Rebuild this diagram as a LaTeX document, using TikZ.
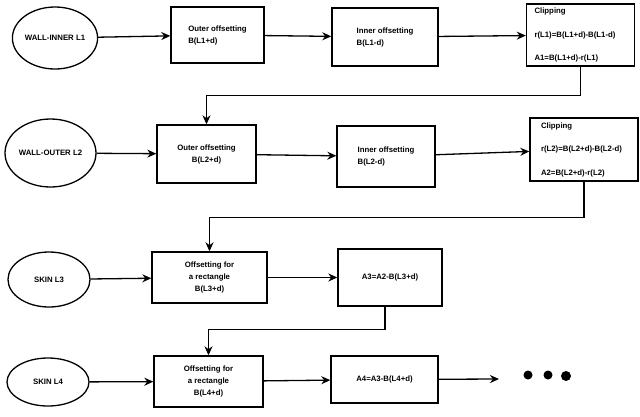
\documentclass[tikz,border=0pt]{standalone}
\usepackage{fontspec}
\setmainfont{Liberation Sans}
\usetikzlibrary{arrows.meta,shapes.geometric}

\begin{document}
\begin{tikzpicture}[x=1pt,y=-1pt,
        every node/.style={font=\fontsize{7.8}{12}\selectfont\bfseries},
        blob/.style={draw,ellipse,line width=1.3pt,inner sep=0pt},
        box/.style={draw,rectangle,line width=1.4pt,inner sep=0pt},
        clipbox/.style={box,align=left,text width=92pt,inner xsep=8pt,font=\fontsize{7.8}{23.5}\selectfont\bfseries},
        flow/.style={line width=1.3pt,-{Stealth[length=9pt,width=8pt]}}]
    \useasboundingbox (0,0) rectangle (640,416);

    % first row: inner wall
    \node[blob,minimum width=80pt,minimum height=62pt] (inner1) at (55,38) {WALL-INNER L1};
    \node[box,align=left,minimum width=93pt,minimum height=56pt] (outoff1) at (217.5,35) {Outer offsetting\\B(L1+d)};
    \node[box,align=left,minimum width=106pt,minimum height=58pt] (inoff1) at (385,37) {Inner offsetting\\B(L1-d)};
    \node[clipbox,minimum height=62pt] (clip1) at (580.5,35) {Clipping\\r(L1)=B(L1+d)-B(L1-d)\\A1=B(L1+d)-r(L1)};

    % second row: outer wall
    \node[blob,minimum width=91pt,minimum height=68pt] (outer2) at (50.5,153) {WALL-OUTER L2};
    \node[box,align=center,minimum width=99pt,minimum height=58pt] (outoff2) at (206.5,154) {Outer offsetting\\B(L2+d)};
    \node[box,align=left,minimum width=98pt,minimum height=61pt] (inoff2) at (386,156.5) {Inner offsetting\\B(L2-d)};
    \node[clipbox,minimum height=63pt,inner xsep=11pt,text width=86pt] (clip2) at (584,149.5) {Clipping\\r(L2)=B(L2+d)-B(L2-d)\\A2=B(L2+d)-r(L2)};

    % third row: skin
    \node[blob,minimum width=82pt,minimum height=55pt] (skin3) at (49,279.5) {SKIN L3};
    \node[box,align=center,minimum width=115pt,minimum height=51pt] (rect3) at (209.5,277.5) {Offsetting for\\a rectangle\\B(L3+d)};
    \node[box,minimum width=104pt,minimum height=57pt] (area3) at (390,277.5) {A3=A2-B(L3+d)};

    % fourth row: skin
    \node[blob,minimum width=82pt,minimum height=48pt] (skin4) at (48,382) {SKIN L4};
    \node[box,align=center,minimum width=109pt,minimum height=51pt] (rect4) at (208.5,381.5) {Offsetting for\\a rectangle\\B(L4+d)};
    \node[box,minimum width=107pt,minimum height=47pt] (area4) at (384.5,379.5) {A4=A3-B(L4+d)};
    \coordinate (more) at (499,379);

    \draw[flow] (inner1) -- (outoff1);
    \draw[flow] (outoff1) -- (inoff1);
    \draw[flow] (inoff1) -- (clip1);
    \draw[flow] (clip1.south) -- ++(0,29) -| (outoff2.north);

    \draw[flow] (outer2) -- (outoff2);
    \draw[flow] (outoff2) -- (inoff2);
    \draw[flow] (inoff2) -- (clip2);
    \draw[flow] (clip2.south) -- ++(0,36) -| (rect3.north);

    \draw[flow] (skin3) -- (rect3);
    \draw[flow] (rect3) -- (area3);
    \draw[flow] ([xshift=-5pt]area3.south) -- ++(0,23) -| (rect4.north);

    \draw[flow] (skin4) -- (rect4);
    \draw[flow] (rect4) -- (area4);
    \draw[flow] (area4) -- (more);

    \fill (528,375) circle (4.5);
    \fill (548,375) circle (4.5);
    \fill (566,376) circle (5);
\end{tikzpicture}
\end{document}
